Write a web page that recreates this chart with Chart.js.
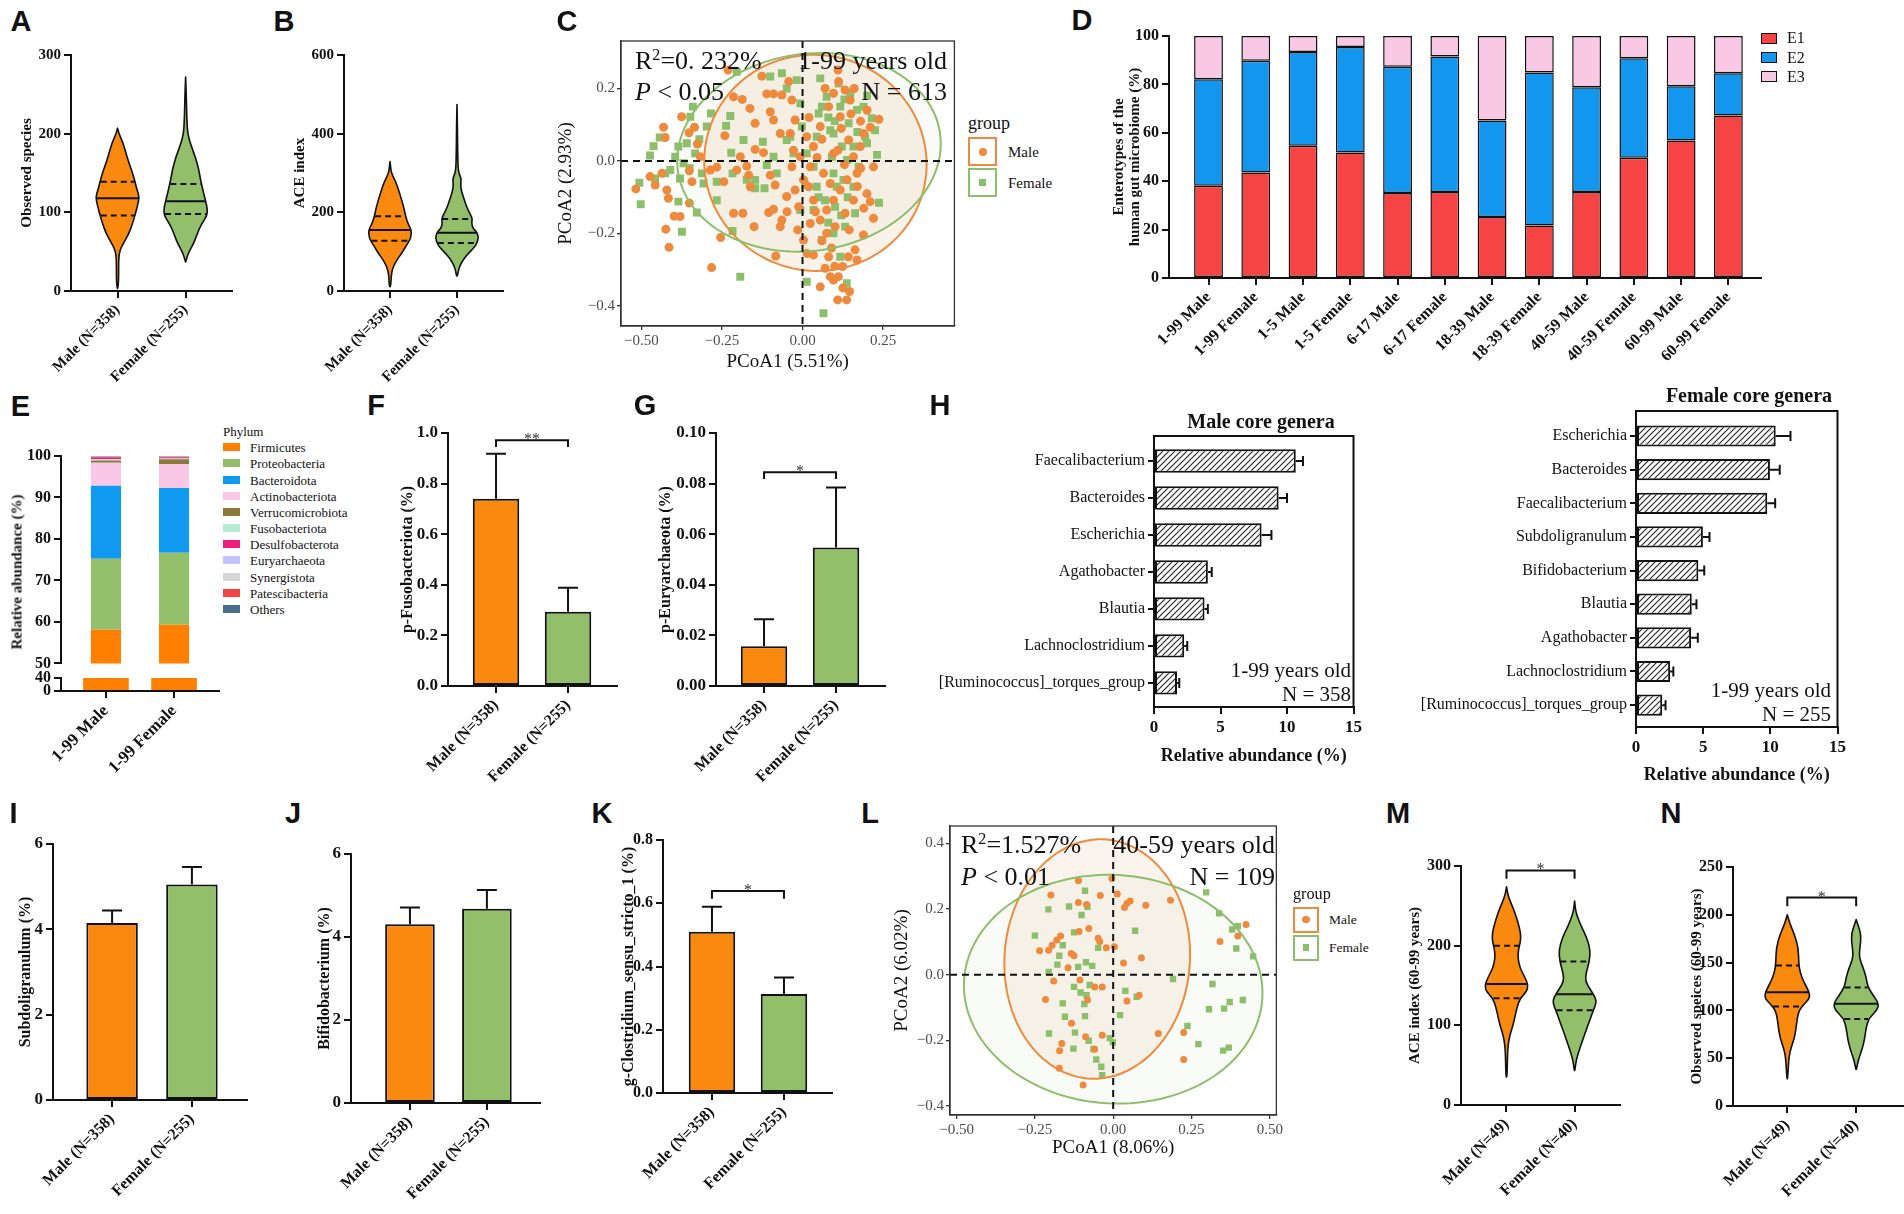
<!DOCTYPE html>
<html>
<head>
<meta charset="utf-8">
<script src="https://cdn.jsdelivr.net/npm/chart.js@4.4.1/dist/chart.umd.min.js"></script>
<style>
  html, body { margin: 0; padding: 0; background: #fff; }
  #fig { position: relative; width: 1904px; height: 1214px; overflow: hidden; background: #fff;
         font-family: 'Liberation Serif', 'Times New Roman', serif; color: #111; }
  #fig canvas { position: absolute; }
  .t { position: absolute; white-space: nowrap; line-height: 1; }
  .letter { font-family: 'Liberation Sans', Arial, sans-serif; font-weight: bold; font-size: 29px; }
  .box { position: absolute; box-sizing: border-box; }
</style>
</head>
<body>
<div id="fig"></div>
<script>
// ---------- data ----------
const groups = ['Male (N=358)', 'Female (N=255)'];
const groups60 = ['Male (N=49)', 'Female (N=40)'];

// A / B: violins, profile = [value, relative half width], stats = [q1, median, q3]
const obsMaleProfile = [[207,0],[200,0.06],[188,0.26],[171,0.43],[160,0.56],[150,0.69],[139,0.8],[128,0.9],[120,1],[110,0.93],[99,0.83],[85,0.68],[73,0.52],[62,0.3],[54,0.14],[45,0.06],[30,0.05],[12,0.05],[0,0]];
const obsFemaleProfile = [[272,0],[250,0.03],[225,0.05],[205,0.08],[195,0.14],[185,0.25],[170,0.45],[155,0.6],[145,0.66],[136,0.73],[125,0.82],[114,0.92],[104,1],[96,0.98],[88,0.8],[80,0.64],[70,0.5],[60,0.36],[50,0.16],[42,0.05],[35,0]];
const obsStats = [[96, 118, 139], [98, 114, 136]];
const aceMaleProfile = [[329,0],[310,0.04],[299,0.07],[278,0.27],[248,0.45],[214,0.64],[189,0.73],[170,0.85],[155,1],[140,0.98],[130,0.93],[115,0.75],[96,0.55],[80,0.33],[62,0.15],[45,0.07],[30,0.05],[18,0.04],[9,0]];
const aceFemaleProfile = [[474,0],[420,0.02],[360,0.03],[310,0.05],[295,0.12],[285,0.2],[272,0.17],[255,0.2],[230,0.35],[210,0.48],[195,0.62],[183,0.72],[172,0.68],[160,0.74],[148,0.95],[135,1],[122,0.93],[110,0.8],[95,0.52],[80,0.3],[65,0.14],[50,0.06],[34,0]];
const aceStats = [[128, 155, 190], [122, 148, 183]];
const obsTicks = [0, 100, 200, 300];
const aceTicks = [0, 200, 400, 600];

// C: PCoA 1-99 years
const pcoaMale = [[-0.517,-0.077],[-0.431,0.093],[-0.426,0.065],[-0.473,-0.043],[-0.457,-0.066],[-0.436,-0.034],[-0.421,-0.080],[-0.416,-0.103],[-0.398,-0.152],[-0.380,-0.153],[-0.424,-0.188],[-0.414,-0.238],[-0.375,0.122],[-0.352,0.078],[-0.351,-0.027],[-0.343,-0.057],[-0.351,-0.116],[-0.335,0.093],[-0.326,0.047],[-0.282,-0.294],[-0.254,-0.211],[-0.266,-0.017],[-0.244,-0.057],[-0.241,0.070],[-0.231,0.251],[-0.214,0.177],[-0.187,0.170],[-0.163,0.145],[-0.214,-0.144],[-0.185,-0.144],[-0.150,-0.181],[-0.126,0.234],[-0.111,0.185],[-0.090,0.185],[-0.064,0.182],[-0.100,0.136],[-0.147,0.104],[-0.147,0.032],[-0.121,0.023],[-0.173,-0.014],[-0.167,-0.039],[-0.100,-0.039],[-0.085,-0.066],[-0.090,-0.133],[-0.105,-0.142],[-0.064,-0.163],[-0.048,-0.140],[-0.083,-0.262],[-0.069,-0.181],[-0.043,0.219],[-0.033,0.168],[-0.023,0.113],[-0.038,0.076],[-0.028,0.030],[-0.033,-0.016],[-0.023,-0.080],[-0.012,-0.126],[-0.015,-0.190],[0.003,-0.218],[0.014,-0.255],[0.034,-0.259],[0.055,-0.347],[0.070,-0.296],[0.081,-0.264],[0.086,-0.319],[0.096,-0.328],[0.111,-0.319],[0.124,-0.291],[0.142,-0.264],[0.169,-0.273],[0.146,-0.360],[0.137,-0.383],[0.109,-0.383],[0.163,-0.245],[0.189,-0.204],[0.220,-0.158],[0.210,-0.112],[0.200,-0.090],[0.220,-0.016],[0.237,0.115],[0.210,0.093],[0.189,0.076],[0.179,0.040],[0.158,0.012],[0.169,-0.034],[0.138,-0.052],[0.117,-0.080],[0.096,-0.108],[0.075,-0.135],[0.055,-0.163],[0.034,-0.108],[0.019,-0.071],[0.024,-0.016],[0.034,0.040],[0.055,0.095],[0.081,0.150],[0.096,0.187],[0.110,0.251],[0.112,0.219],[0.132,0.196],[0.148,0.168],[0.117,0.122],[0.143,0.058],[0.096,0.021],[0.065,-0.034],[0.086,-0.062],[0.158,-0.108],[0.132,-0.144],[0.101,-0.181],[0.075,-0.199],[0.013,0.067],[0.003,-0.052],[-0.007,0.012],[-0.162,-0.071],[-0.204,-0.025],[-0.286,-0.025],[-0.317,0.012],[-0.090,0.113],[-0.069,0.076],[-0.193,0.012],[0.024,-0.172],[-0.049,-0.098],[0.045,0.010],[0.060,0.060],[0.120,0.090],[0.150,0.130],[0.180,0.110],[0.200,0.140],[0.130,-0.010],[0.110,0.030],[0.170,-0.070],[0.190,-0.130],[0.145,-0.190],[0.090,-0.240],[0.060,-0.220],[0.040,-0.140],[0.020,0.120],[0.070,0.200],[0.160,0.200],[0.100,-0.290],[0.125,-0.350],[0.180,-0.020]];
const pcoaFemale = [[-0.502,-0.119],[-0.506,-0.060],[-0.473,0.015],[-0.462,0.041],[-0.443,0.065],[-0.457,-0.048],[-0.426,-0.034],[-0.410,-0.025],[-0.395,0.012],[-0.385,0.040],[-0.380,-0.048],[-0.385,-0.112],[-0.374,-0.195],[-0.369,-0.006],[-0.359,0.049],[-0.348,0.122],[-0.340,0.150],[-0.333,0.021],[-0.328,-0.142],[-0.312,-0.034],[-0.307,-0.062],[-0.297,0.095],[-0.284,0.131],[-0.266,-0.057],[-0.266,-0.108],[-0.237,0.097],[-0.224,0.124],[-0.221,0.023],[-0.217,-0.034],[-0.217,-0.193],[-0.204,0.246],[-0.193,-0.319],[-0.173,-0.052],[-0.147,-0.052],[-0.147,-0.075],[-0.123,0.053],[-0.118,-0.075],[-0.100,0.233],[-0.111,-0.011],[-0.080,-0.034],[-0.064,0.242],[-0.049,0.200],[-0.038,0.067],[-0.028,0.021],[-0.018,0.223],[-0.007,0.159],[-0.002,0.095],[0.008,-0.066],[0.013,-0.333],[0.034,-0.135],[0.044,-0.071],[0.050,0.131],[0.055,0.228],[0.060,-0.218],[0.065,-0.420],[0.075,0.177],[0.086,0.085],[0.091,0.012],[0.096,-0.034],[0.101,-0.126],[0.112,0.214],[0.117,0.150],[0.122,0.040],[0.127,-0.052],[0.132,-0.181],[0.137,-0.337],[0.143,0.104],[0.148,0.187],[0.158,0.040],[0.158,-0.071],[0.163,-0.144],[0.169,0.141],[0.174,-0.016],[0.189,0.150],[0.194,0.067],[0.200,0.049],[0.215,0.118],[0.225,0.085],[0.231,0.017],[0.237,-0.115],[0.117,-0.264],[0.096,-0.199],[0.044,0.067],[0.013,0.021],[0.034,-0.016],[0.070,-0.108],[0.096,0.076],[0.106,-0.071],[0.138,0.003],[-0.049,0.058],[-0.090,0.012],[-0.183,0.058],[-0.007,-0.135],[0.080,0.120],[0.130,0.170],[0.060,0.150],[0.100,0.110],[0.140,-0.100],[0.120,-0.150],[0.080,-0.170],[0.050,-0.100],[0.170,0.080],[0.200,0.180],[-0.350,-0.020],[-0.320,0.060]];
// confidence ellipses: centre, semi axes, rotation (deg)
const ellipseMaleC = {cx: 0.040, cy: -0.005, rx: 0.345, ry: 0.298, angle: -3};
const ellipseFemaleC = {cx: 0.020, cy: 0.024, rx: 0.410, ry: 0.272, angle: 6};
const pcoaTicksX = [-0.5, -0.25, 0, 0.25];
const pcoaTicksY = [-0.4, -0.2, 0, 0.2];

// D: enterotypes (%)
const dCats = ['1-99 Male','1-99 Female','1-5 Male','1-5 Female','6-17 Male','6-17 Female','18-39 Male','18-39 Female','40-59 Male','40-59 Female','60-99 Male','60-99 Female'];
const dE1 = [38.1, 43.6, 54.6, 51.9, 35.1, 35.5, 25.2, 21.7, 35.5, 49.7, 56.8, 67.1];
const dE2 = [44.0, 46.2, 38.8, 43.6, 52.2, 56.0, 39.9, 63.2, 43.3, 41.1, 22.4, 17.5];
const dE3 = [17.9, 10.2, 6.6, 4.5, 12.7, 8.5, 34.9, 15.1, 21.2, 9.2, 20.8, 15.4];
const pctTicks = [0, 20, 40, 60, 80, 100];

// E: phylum composition (%)
const eCats = ['1-99 Male', '1-99 Female'];
const phyla = ['Firmicutes','Proteobacteria','Bacteroidota','Actinobacteriota','Verrucomicrobiota','Fusobacteriota','Desulfobacterota','Euryarchaeota','Synergistota','Patescibacteria','Others'];
const phylaMale = [58.1, 17.1, 17.6, 5.6, 0.5, 0.4, 0.4, 0.05, 0.05, 0.05, 0.15];
const phylaFemale = [59.3, 17.4, 15.6, 5.8, 1.1, 0.2, 0.3, 0.05, 0.05, 0.05, 0.15];
const eTicksUpper = [50, 60, 70, 80, 90, 100];
const eTicksLower = [0, 40];

// F / G / I / J / K: mean and upper error (mean + SEM)
const fusoMean = [0.74, 0.293],   fusoUpper = [0.918, 0.388];
const euryMean = [0.0157, 0.0547], euryUpper = [0.0264, 0.0785];
const subdoMean = [4.15, 5.05],   subdoUpper = [4.44, 5.46];
const bifidoMean = [4.31, 4.68],  bifidoUpper = [4.71, 5.13];
const clostMean = [0.51, 0.313],  clostUpper = [0.589, 0.365];
const fusoTicks = [0, 0.2, 0.4, 0.6, 0.8, 1.0];
const euryTicks = [0, 0.02, 0.04, 0.06, 0.08, 0.10];
const sixTicks = [0, 2, 4, 6];
const clostTicks = [0, 0.2, 0.4, 0.6, 0.8];

// H: core genera
const maleGenera = ['Faecalibacterium','Bacteroides','Escherichia','Agathobacter','Blautia','Lachnoclostridium','[Ruminococcus]_torques_group'];
const maleGeneraMean = [10.66, 9.37, 8.09, 4.05, 3.80, 2.27, 1.73];
const maleGeneraUpper = [11.2, 10.0, 8.83, 4.34, 4.05, 2.50, 1.90];
const femaleGenera = ['Escherichia','Bacteroides','Faecalibacterium','Subdoligranulum','Bifidobacterium','Blautia','Agathobacter','Lachnoclostridium','[Ruminococcus]_torques_group'];
const femaleGeneraMean = [10.4, 9.97, 9.77, 4.98, 4.64, 4.15, 4.10, 2.54, 1.95];
const femaleGeneraUpper = [11.5, 10.7, 10.36, 5.47, 5.08, 4.50, 4.60, 2.78, 2.20];
const genusTicks = [0, 5, 10, 15];

// L: PCoA 40-59 years
const pcoa4059Male = [[-0.111,0.286],[-0.004,0.293],[-0.199,0.243],[-0.111,0.220],[-0.085,0.214],[-0.041,0.241],[0.013,0.246],[0.036,0.205],[0.044,0.217],[0.054,0.225],[0.104,0.212],[0.183,0.227],[-0.109,0.132],[-0.078,0.141],[-0.168,0.118],[-0.180,0.106],[-0.195,0.090],[-0.206,0.075],[-0.235,0.073],[-0.048,0.111],[-0.043,0.101],[-0.022,0.082],[0.004,0.085],[-0.134,0.065],[-0.125,0.058],[-0.144,0.021],[0.033,0.036],[0.090,0.052],[-0.190,-0.019],[-0.106,-0.016],[-0.059,-0.037],[-0.035,-0.037],[-0.216,-0.075],[-0.082,-0.077],[0.044,-0.080],[0.083,-0.062],[-0.133,-0.148],[-0.164,-0.209],[-0.171,-0.231],[-0.172,-0.285],[-0.088,-0.189],[-0.059,-0.227],[-0.035,-0.184],[-0.096,-0.336],[0.144,-0.179],[0.225,-0.176],[0.225,-0.258],[0.341,0.101],[0.398,0.118],[0.424,0.153]];
const pcoa4059Female = [[-0.207,0.199],[-0.141,0.208],[-0.090,0.256],[-0.082,0.207],[-0.101,0.182],[-0.250,0.119],[-0.125,0.129],[-0.161,0.090],[-0.172,0.058],[-0.178,0.031],[-0.206,0.009],[-0.112,0.024],[-0.087,0.038],[-0.067,0.027],[-0.048,0.082],[-0.125,-0.037],[-0.104,-0.054],[-0.085,-0.062],[-0.075,-0.031],[-0.161,-0.087],[-0.092,-0.089],[-0.154,-0.128],[-0.090,-0.126],[-0.205,-0.179],[-0.122,-0.176],[-0.127,-0.225],[-0.078,-0.201],[-0.063,-0.226],[-0.054,-0.258],[-0.038,-0.280],[-0.035,-0.306],[-0.011,-0.193],[-0.001,-0.206],[0.039,-0.049],[0.022,-0.123],[0.075,-0.067],[0.070,0.134],[0.191,-0.013],[0.237,-0.156],[0.272,-0.211],[0.297,0.251],[0.317,-0.028],[0.338,0.187],[0.306,-0.105],[0.354,-0.103],[0.372,-0.083],[0.414,-0.077],[0.380,0.138],[0.398,0.148],[0.393,0.080],[0.447,0.056],[0.351,-0.231],[0.369,-0.222]];
const ellipseMaleL = {cx: -0.051, cy: 0.048, rx: 0.296, ry: 0.365, angle: -5};
const ellipseFemaleL = {cx: 0.000, cy: -0.044, rx: 0.477, ry: 0.348, angle: -3};
const pcoa4059TicksX = [-0.5, -0.25, 0, 0.25, 0.5];
const pcoa4059TicksY = [-0.4, -0.2, 0, 0.2, 0.4];

// M / N: 60-99 years violins
const ace60MaleProfile = [[274,0],[265,0.05],[255,0.18],[245,0.34],[230,0.52],[215,0.66],[205,0.64],[195,0.55],[185,0.52],[172,0.62],[160,0.85],[150,1],[142,0.92],[134,0.62],[122,0.48],[110,0.38],[100,0.3],[90,0.18],[80,0.1],[70,0.06],[55,0.04],[40,0.03],[33,0]];
const ace60FemaleProfile = [[256,0],[248,0.03],[240,0.08],[225,0.29],[210,0.56],[195,0.72],[180,0.68],[165,0.52],[155,0.5],[145,0.72],[135,0.95],[128,1],[119,0.86],[105,0.68],[90,0.48],[75,0.29],[62,0.13],[52,0.05],[40,0]];
const ace60Stats = [[134, 152, 200], [119, 139, 180]];
const obs60MaleProfile = [[200,0],[190,0.12],[180,0.31],[165,0.49],[150,0.5],[140,0.56],[130,0.72],[120,0.95],[113,1],[106,0.72],[100,0.52],[92,0.44],[80,0.38],[70,0.3],[60,0.15],[50,0.07],[38,0.04],[25,0]];
const obs60FemaleProfile = [[195,0],[188,0.1],[180,0.2],[172,0.2],[163,0.15],[155,0.14],[145,0.3],[135,0.44],[125,0.5],[116,0.74],[107,1],[100,0.92],[92,0.56],[82,0.44],[70,0.37],[60,0.27],[50,0.12],[42,0.04],[37,0]];
const obs60Stats = [[104, 119, 147], [91, 107, 124]];
const ace60Ticks = [0, 100, 200, 300];
const obs60Ticks = [0, 50, 100, 150, 200, 250];

// ---------- styles ----------
const INK = '#111';
const ORANGE = '#F98A0F';
const GREEN = '#93BF6B';
const PT_ORANGE = '#EE8A3D';
const PT_GREEN = '#8DBE6B';
const phylaColors = ['#FF8000','#93BF6B','#109AF0','#F8C8E6','#8C7A3A','#B6EBD3','#EE1E80','#C3C3FA','#D6D6D6','#F24444','#4C6E8E'];

Chart.defaults.font.family = "'Liberation Serif', 'Times New Roman', serif";
Chart.defaults.color = INK;

const fig = document.getElementById('fig');
const toXY = arr => arr.map((v, i) => ({x: i, y: v}));
const toYX = arr => arr.map((v, i) => ({x: v, y: i}));
const toPts = arr => arr.map(([x, y]) => ({x, y}));
const idx = arr => arr.map((_, i) => i);

// place a chart so its chart area lands on [l, t, r, b]; m = [left, top, right, bottom] margins
function place(area, m, config) {
  const [L, T, R, B] = area.map(Math.round);
  const [ml, mt, mr, mb] = m.map(Math.round);
  const cv = document.createElement('canvas');
  const W = R - L + ml + mr, H = B - T + mt + mb;
  cv.width = W; cv.height = H;
  Object.assign(cv.style, {left: (L - ml) + 'px', top: (T - mt) + 'px', width: W + 'px', height: H + 'px'});
  fig.appendChild(cv);
  const o = config.options;
  const sx = o.scales.x, sy = o.scales.y;
  const xShown = sx.display !== false, yShown = sy.display !== false;
  if (xShown) sx.afterFit = s => { s.height = mb; };
  if (yShown) sy.afterFit = s => { s.width = ml; };
  o.responsive = false;
  o.animation = false;
  o.layout = {padding: {left: yShown ? 0 : ml, top: mt, right: mr, bottom: xShown ? 0 : mb}};
  o.plugins = Object.assign({legend: {display: false}, tooltip: {enabled: false}}, o.plugins || {});
  return new Chart(cv, config);
}

// GraphPad-like axis: heavy line, outside ticks, bold serif labels
function gpAxis(o) {
  const ax = {
    type: 'linear', min: o.min, max: o.max, reverse: !!o.reverse, offset: false,
    afterBuildTicks: s => { s.ticks = o.ticks.map(v => ({value: v})); },
    ticks: {autoSkip: false, padding: o.pad ?? 3, color: o.color || INK,
      font: {size: o.size, weight: o.weight || 'bold'}, callback: o.fmt || (v => v)},
    grid: {display: true, offset: false, drawOnChartArea: false, drawTicks: true, tickLength: o.tickLength || 7,
      tickWidth: o.lw || 2, lineWidth: o.lw || 2, tickColor: o.lineColor || INK},
    border: {display: true, color: o.lineColor || INK, width: o.lw || 2},
  };
  if (o.rotate) { ax.ticks.minRotation = o.rotate; ax.ticks.maxRotation = o.rotate; }
  if (o.title) {
    ax.title = {display: true, text: o.title, padding: 0, color: INK,
      font: {size: o.titleSize, weight: o.titleWeight || 'bold', lineHeight: o.titleLH || 1.2}};
  }
  if (o.stacked) ax.stacked = true;
  return ax;
}
function groupAxis(labels, min, max, size) {
  return gpAxis({min, max, ticks: idx(labels), fmt: v => labels[v], size, rotate: 45});
}
function ggAxis(o) {
  return gpAxis(Object.assign({size: 15, weight: 'normal', color: '#4D4D4D', lineColor: '#333', lw: 1.3,
    tickLength: 4, pad: 2, titleSize: 19, titleWeight: 'normal'}, o));
}
const fmt2 = v => (v < 0 ? '\u2212' : '') + Math.abs(v).toFixed(2);
const fmt1 = v => (v < 0 ? '\u2212' : '') + Math.abs(v).toFixed(1);

// ---------- plugins ----------
function widthAt(profile, val) {
  for (let i = 0; i < profile.length - 1; i++) {
    const [v0, w0] = profile[i], [v1, w1] = profile[i + 1];
    if (val <= v0 && val >= v1) return w0 + (w1 - w0) * (v0 - val) / (v0 - v1);
  }
  return 0;
}
function violins(items, halfWidth) {
  return {
    id: 'violins',
    afterDatasetsDraw(chart) {
      const {ctx} = chart, xs = chart.scales.x, ys = chart.scales.y;
      const hw = (xs.getPixelForValue(1) - xs.getPixelForValue(0)) * halfWidth;
      items.forEach(v => {
        const cx = xs.getPixelForValue(v.x);
        const right = v.profile.map(([val, w]) => ({x: cx + w * hw, y: ys.getPixelForValue(val)}));
        const left = right.slice(1, -1).reverse().map(p => ({x: 2 * cx - p.x, y: p.y}));
        const pts = right.concat(left);
        ctx.save();
        ctx.beginPath();
        ctx.moveTo(pts[0].x, pts[0].y);
        for (let i = 1; i < pts.length; i++) {
          const p = pts[i], q = pts[(i + 1) % pts.length];
          ctx.quadraticCurveTo(p.x, p.y, (p.x + q.x) / 2, (p.y + q.y) / 2);
        }
        ctx.closePath();
        ctx.fillStyle = v.color;
        ctx.fill();
        ctx.lineWidth = 1.6; ctx.lineJoin = 'round'; ctx.strokeStyle = INK;
        ctx.stroke();
        v.stats.forEach((val, k) => {
          const w = widthAt(v.profile, val) * hw * 0.96;
          const py = ys.getPixelForValue(val);
          ctx.setLineDash(k === 1 ? [] : [6, 4]);
          ctx.lineWidth = 2;
          ctx.beginPath(); ctx.moveTo(cx - w, py); ctx.lineTo(cx + w, py); ctx.stroke();
        });
        ctx.restore();
      });
    },
  };
}
function errorBars(means, upper, cap, horizontal) {
  return {
    id: 'errorBars',
    afterDatasetsDraw(chart) {
      const {ctx} = chart, xs = chart.scales.x, ys = chart.scales.y;
      ctx.save(); ctx.strokeStyle = INK; ctx.lineWidth = 2;
      means.forEach((m, i) => {
        ctx.beginPath();
        if (horizontal) {
          const py = ys.getPixelForValue(i), x0 = xs.getPixelForValue(m), x1 = xs.getPixelForValue(upper[i]);
          ctx.moveTo(x0, py); ctx.lineTo(x1, py); ctx.moveTo(x1, py - cap); ctx.lineTo(x1, py + cap);
        } else {
          const px = xs.getPixelForValue(i), y0 = ys.getPixelForValue(m), y1 = ys.getPixelForValue(upper[i]);
          ctx.moveTo(px, y0); ctx.lineTo(px, y1); ctx.moveTo(px - cap, y1); ctx.lineTo(px + cap, y1);
        }
        ctx.stroke();
      });
      ctx.restore();
    },
  };
}
function bracket(b) {
  return {
    id: 'bracket',
    afterDatasetsDraw(chart) {
      const {ctx} = chart, xs = chart.scales.x, ys = chart.scales.y;
      const x0 = xs.getPixelForValue(0), x1 = xs.getPixelForValue(1);
      const y0 = ys.getPixelForValue(b.y), yl = ys.getPixelForValue(b.leg);
      ctx.save();
      ctx.strokeStyle = INK; ctx.lineWidth = 2;
      ctx.beginPath(); ctx.moveTo(x0, yl); ctx.lineTo(x0, y0); ctx.lineTo(x1, y0); ctx.lineTo(x1, yl); ctx.stroke();
      ctx.fillStyle = '#333'; ctx.font = "16px 'Liberation Serif'";
      ctx.textAlign = 'center'; ctx.textBaseline = 'alphabetic';
      ctx.fillText(b.label, (x0 + x1) / 2, y0 + 4);
      ctx.restore();
    },
  };
}
function ellipsePath(ctx, xs, ys, e) {
  const a = e.angle * Math.PI / 180;
  ctx.beginPath();
  for (let k = 0; k <= 120; k++) {
    const t = k / 120 * 2 * Math.PI;
    const dx = e.rx * Math.cos(t), dy = e.ry * Math.sin(t);
    const px = xs.getPixelForValue(e.cx + dx * Math.cos(a) - dy * Math.sin(a));
    const py = ys.getPixelForValue(e.cy + dx * Math.sin(a) + dy * Math.cos(a));
    if (k) ctx.lineTo(px, py); else ctx.moveTo(px, py);
  }
  ctx.closePath();
}
function pcoaDecor(ellipses) {
  return {
    id: 'pcoa',
    beforeDatasetsDraw(chart) {
      const {ctx} = chart, xs = chart.scales.x, ys = chart.scales.y;
      ctx.save();
      ellipses.forEach(e => { ellipsePath(ctx, xs, ys, e); ctx.fillStyle = e.fill; ctx.fill(); });
      ctx.restore();
    },
    afterDatasetsDraw(chart) {
      const {ctx, chartArea: a} = chart, xs = chart.scales.x, ys = chart.scales.y;
      ctx.save();
      ellipses.forEach(e => { ellipsePath(ctx, xs, ys, e); ctx.strokeStyle = e.stroke; ctx.lineWidth = 2; ctx.stroke(); });
      ctx.strokeStyle = INK; ctx.lineWidth = 2; ctx.setLineDash([7, 5]);
      const x0 = xs.getPixelForValue(0), y0 = ys.getPixelForValue(0);
      ctx.beginPath(); ctx.moveTo(x0, a.top); ctx.lineTo(x0, a.bottom); ctx.moveTo(a.left, y0); ctx.lineTo(a.right, y0); ctx.stroke();
      ctx.setLineDash([]); ctx.strokeStyle = '#333'; ctx.lineWidth = 1.3;
      ctx.strokeRect(a.left, a.top, a.right - a.left, a.bottom - a.top);
      ctx.restore();
    },
  };
}
const frame = {
  id: 'frame',
  afterDraw(chart) {
    const {ctx, chartArea: a} = chart;
    ctx.save(); ctx.strokeStyle = INK; ctx.lineWidth = 2;
    ctx.strokeRect(a.left, a.top, a.right - a.left, a.bottom - a.top);
    ctx.restore();
  },
};
function hatch() {
  const c = document.createElement('canvas');
  c.width = c.height = 6;
  const g = c.getContext('2d');
  g.fillStyle = '#fff'; g.fillRect(0, 0, 6, 6);
  g.strokeStyle = '#222'; g.lineWidth = 1.1;
  g.beginPath();
  g.moveTo(0, 6); g.lineTo(6, 0);
  g.moveTo(-1, 1); g.lineTo(1, -1);
  g.moveTo(5, 7); g.lineTo(7, 5);
  g.stroke();
  return g.createPattern(c, 'repeat');
}

// ---------- HTML text ----------
function text(html, x, y, o = {}) {
  const d = document.createElement('div');
  d.className = 't ' + (o.cls || '');
  d.innerHTML = html;
  const a = o.anchor || 'lm';
  const tx = a[0] === 'l' ? '0' : a[0] === 'r' ? '-100%' : '-50%';
  const ty = a[1] === 't' ? '0' : a[1] === 'b' ? '-100%' : '-50%';
  d.style.left = x + 'px'; d.style.top = y + 'px';
  d.style.transform = `translate(${tx},${ty})` + (o.rot ? ` rotate(${o.rot}deg)` : '');
  if (o.size) d.style.fontSize = o.size + 'px';
  if (o.bold) d.style.fontWeight = 'bold';
  if (o.italic) d.style.fontStyle = 'italic';
  fig.appendChild(d);
  return d;
}
function swatch(x, y, w, h, css) {
  const d = document.createElement('div');
  d.className = 'box';
  Object.assign(d.style, {left: x + 'px', top: y + 'px', width: w + 'px', height: h + 'px'}, css);
  fig.appendChild(d);
  return d;
}

// ---------- A: observed species ----------
place([71, 55, 232, 291], [52.5, 14, 4, 95], {
  type: 'scatter', data: {datasets: []},
  options: {scales: {
    x: groupAxis(groups, -0.683, 1.681, 15),
    y: gpAxis({min: 0, max: 300, ticks: obsTicks, size: 15, title: 'Observed species', titleSize: 15}),
  }},
  plugins: [violins([
    {x: 0, profile: obsMaleProfile, stats: obsStats[0], color: ORANGE},
    {x: 1, profile: obsFemaleProfile, stats: obsStats[1], color: GREEN}], 0.32)],
});

// ---------- B: ACE index ----------
place([344, 55, 503, 291], [53, 14, 4, 95], {
  type: 'scatter', data: {datasets: []},
  options: {scales: {
    x: groupAxis(groups, -0.687, 1.687, 15),
    y: gpAxis({min: 0, max: 600, ticks: aceTicks, size: 15, title: 'ACE index', titleSize: 15}),
  }},
  plugins: [violins([
    {x: 0, profile: aceMaleProfile, stats: aceStats[0], color: ORANGE},
    {x: 1, profile: aceFemaleProfile, stats: aceStats[1], color: GREEN}], 0.32)],
});

// ---------- C: PCoA 1-99 ----------
place([621, 41, 956, 326], [66, 14, 4, 47], {
  type: 'scatter',
  data: {datasets: [
    {data: toPts(pcoaMale), backgroundColor: PT_ORANGE, borderWidth: 0, pointRadius: 4.5, pointStyle: 'circle'},
    {data: toPts(pcoaFemale), backgroundColor: PT_GREEN, borderWidth: 0, pointRadius: 5.6, pointStyle: 'rect'},
  ]},
  options: {scales: {
    x: ggAxis({min: -0.563, max: 0.471, ticks: pcoaTicksX, fmt: fmt2, title: 'PCoA1 (5.51%)'}),
    y: ggAxis({min: -0.455, max: 0.331, ticks: pcoaTicksY, fmt: fmt1, title: 'PCoA2 (2.93%)'}),
  }},
  plugins: [pcoaDecor([
    Object.assign({stroke: PT_ORANGE, fill: 'rgba(226,172,112,0.15)'}, ellipseMaleC),
    Object.assign({stroke: PT_GREEN, fill: 'rgba(165,200,135,0.08)'}, ellipseFemaleC)])],
});

// ---------- D: enterotypes ----------
const barBase = {borderColor: INK, borderWidth: 1.5, borderSkipped: false, barPercentage: 0.61, categoryPercentage: 1, clip: false};
place([1169, 36, 1761, 278], [58, 14, 4, 100], {
  type: 'bar',
  data: {datasets: [
    Object.assign({data: toXY(dE1), backgroundColor: '#F64343'}, barBase),
    Object.assign({data: toXY(dE2), backgroundColor: '#1296EE'}, barBase),
    Object.assign({data: toXY(dE3), backgroundColor: '#F8C8E4'}, barBase),
  ]},
  options: {scales: {
    x: Object.assign(groupAxis(dCats, -0.836, 11.69, 16), {stacked: true}),
    y: gpAxis({min: 0, max: 100, ticks: pctTicks, size: 16, stacked: true,
      title: ['Enterotypes of the', 'human gut microbiome (%)'], titleSize: 15, titleLH: 1.07}),
  }},
});

// ---------- E: phylum composition (broken axis) ----------
function phylaSets() {
  return phyla.map((p, i) => ({
    label: p, data: [{x: 0, y: phylaMale[i]}, {x: 1, y: phylaFemale[i]}],
    backgroundColor: phylaColors[i], borderWidth: 0, barPercentage: 0.67, categoryPercentage: 1, clip: 0,
  }));
}
place([61, 456, 219, 664], [53, 14, 4, 12], {
  type: 'bar', data: {datasets: phylaSets()},
  options: {scales: {
    x: {type: 'linear', display: false, offset: false, min: -0.66, max: 1.66, stacked: true},
    y: gpAxis({min: 50, max: 100, ticks: eTicksUpper, size: 16, stacked: true}),
  }},
});
place([61, 678, 219, 691], [53, 14, 4, 95], {
  type: 'bar', data: {datasets: phylaSets()},
  options: {scales: {
    x: Object.assign(groupAxis(eCats, -0.66, 1.66, 17), {stacked: true}),
    y: gpAxis({min: 0, max: 40, ticks: eTicksLower, size: 16, stacked: true}),
  }},
});

// ---------- simple two-bar panels ----------
function twoBars(area, ml, range, mean, upper, yo, br) {
  const plugins = [errorBars(mean, upper, 10, false)];
  if (br) plugins.push(bracket(br));
  return place(area, [ml, 14, 4, 105], {
    type: 'bar',
    data: {datasets: [{data: toXY(mean), backgroundColor: [ORANGE, GREEN], borderColor: INK, borderWidth: 2,
      borderSkipped: false, barPercentage: 0.645, categoryPercentage: 1}]},
    options: {scales: {x: groupAxis(groups, range[0], range[1], 16), y: gpAxis(yo)}},
    plugins,
  });
}
twoBars([448, 433, 617, 686], 50, [-0.667, 1.68], fusoMean, fusoUpper,
  {min: 0, max: 1, ticks: fusoTicks, size: 17, fmt: v => v.toFixed(1), title: 'p-Fusobacteriota (%)', titleSize: 16},
  {y: 0.971, leg: 0.945, label: '**'});
twoBars([716, 433, 885, 686], 59.6, [-0.667, 1.68], euryMean, euryUpper,
  {min: 0, max: 0.1, ticks: euryTicks, size: 17, fmt: v => v.toFixed(2), title: 'p-Euryarchaeota (%)', titleSize: 16},
  {y: 0.0845, leg: 0.0818, label: '*'});
twoBars([53, 844, 247, 1100], 37, [-0.74, 1.69], subdoMean, subdoUpper,
  {min: 0, max: 6, ticks: sixTicks, size: 17, title: 'Subdoligranulum (%)', titleSize: 16});
twoBars([351, 854, 540, 1103], 36.3, [-0.766, 1.69], bifidoMean, bifidoUpper,
  {min: 0, max: 6, ticks: sixTicks, size: 17, title: 'Bifidobacterium (%)', titleSize: 16});
twoBars([663, 840, 832, 1093], 44, [-0.68, 1.667], clostMean, clostUpper,
  {min: 0, max: 0.8, ticks: clostTicks, size: 16, fmt: v => v.toFixed(1), title: 'g-Clostridium_sensu_stricto_1 (%)', titleSize: 16},
  {y: 0.639, leg: 0.614, label: '*'});

// ---------- H: core genera ----------
function genera(area, ml, mb, names, mean, upper, yRange) {
  return place(area, [ml, 14, 6, mb], {
    type: 'bar',
    data: {datasets: [{data: toYX(mean), backgroundColor: hatch(), borderColor: INK, borderWidth: 2,
      borderSkipped: false, barPercentage: 0.63, categoryPercentage: 1}]},
    options: {indexAxis: 'y', scales: {
      x: gpAxis({min: 0, max: 15, ticks: genusTicks, size: 17, title: 'Relative abundance (%)', titleSize: 18}),
      y: gpAxis({min: yRange[0], max: yRange[1], reverse: true, ticks: idx(names), fmt: v => names[v],
        size: 16, weight: 'normal', tickLength: 6}),
    }},
    plugins: [errorBars(mean, upper, 5, true), frame],
  });
}
genera([1154, 436, 1359, 707], 232, 60, maleGenera, maleGeneraMean, maleGeneraUpper, [-0.676, 6.65]);
genera([1636, 411, 1843, 727], 242, 59, femaleGenera, femaleGeneraMean, femaleGeneraUpper, [-0.744, 8.65]);

// ---------- L: PCoA 40-59 ----------
place([950, 826, 1281, 1115], [59.4, 14, 4, 44.4], {
  type: 'scatter',
  data: {datasets: [
    {data: toPts(pcoa4059Male), backgroundColor: PT_ORANGE, borderWidth: 0, pointRadius: 3.5, pointStyle: 'circle'},
    {data: toPts(pcoa4059Female), backgroundColor: PT_GREEN, borderWidth: 0, pointRadius: 4.5, pointStyle: 'rect'},
  ]},
  options: {scales: {
    x: ggAxis({min: -0.521, max: 0.521, ticks: pcoa4059TicksX, fmt: fmt2, title: 'PCoA1 (8.06%)'}),
    y: ggAxis({min: -0.427, max: 0.453, ticks: pcoa4059TicksY, fmt: fmt1, title: 'PCoA2 (6.02%)'}),
  }},
  plugins: [pcoaDecor([
    Object.assign({stroke: PT_ORANGE, fill: 'rgba(226,172,112,0.13)'}, ellipseMaleL),
    Object.assign({stroke: PT_GREEN, fill: 'rgba(165,200,135,0.07)'}, ellipseFemaleL)])],
});

// ---------- M / N: 60-99 years violins ----------
place([1461, 866, 1620, 1105], [54.5, 14, 4, 105], {
  type: 'scatter', data: {datasets: []},
  options: {scales: {
    x: groupAxis(groups60, -0.668, 1.667, 16),
    y: gpAxis({min: 0, max: 300, ticks: ace60Ticks, size: 16, title: 'ACE index (60-99 years)', titleSize: 15}),
  }},
  plugins: [violins([
    {x: 0, profile: ace60MaleProfile, stats: ace60Stats[0], color: ORANGE},
    {x: 1, profile: ace60FemaleProfile, stats: ace60Stats[1], color: GREEN}], 0.32),
    bracket({y: 294.5, leg: 284, label: '*'})],
});
place([1733, 867, 1903, 1106], [45, 14, 1, 105], {
  type: 'scatter', data: {datasets: []},
  options: {scales: {
    x: groupAxis(groups60, -0.788, 1.68, 16),
    y: gpAxis({min: 0, max: 250, ticks: obs60Ticks, size: 16, title: 'Observed speices (60-99 years)', titleSize: 15}),
  }},
  plugins: [violins([
    {x: 0, profile: obs60MaleProfile, stats: obs60Stats[0], color: ORANGE},
    {x: 1, profile: obs60FemaleProfile, stats: obs60Stats[1], color: GREEN}], 0.33),
    bracket({y: 218, leg: 209, label: '*'})],
});

// ---------- text overlays ----------
[['A', 21, 21], ['B', 284, 21], ['C', 567, 21], ['D', 1082, 20], ['E', 20.5, 406], ['F', 376, 405],
 ['G', 645, 405], ['H', 940, 405], ['I', 13.5, 813], ['J', 293, 813], ['K', 602, 813], ['L', 870, 813],
 ['M', 1398, 813], ['N', 1671, 813]].forEach(([s, x, y]) => text(s, x, y, {cls: 'letter', anchor: 'cm'}));

const sup = '<span style="font-size:0.62em;position:relative;top:-0.55em">2</span>';
text('R' + sup + '=0. 232%', 635, 61, {size: 26});
text('1-99 years old', 947, 61, {size: 26, anchor: 'rm'});
text('<i>P</i> &lt; 0.05', 635, 92, {size: 26});
text('N = 613', 947, 92, {size: 26, anchor: 'rm'});
text('R' + sup + '=1.527%', 961, 845, {size: 26});
text('40-59 years old', 1275, 845, {size: 26, anchor: 'rm'});
text('<i>P</i> &lt; 0.01', 961, 877, {size: 26});
text('N = 109', 1275, 877, {size: 26, anchor: 'rm'});

// ggplot legends
function groupLegend(x, y, s) {
  text('group', x, y, {size: 18 * s});
  const bw = 29 * s, bh = 29 * s, top1 = y + 14 * s, top2 = top1 + bh + 2 * s;
  swatch(x, top1, bw, bh, {border: `2px solid ${PT_ORANGE}`});
  swatch(x, top2, bw, bh, {border: `2px solid ${PT_GREEN}`});
  const d = 8 * s, q = 7 * s;
  swatch(x + (bw - d) / 2, top1 + (bh - d) / 2, d, d, {background: PT_ORANGE, borderRadius: '50%'});
  swatch(x + (bw - q) / 2, top2 + (bh - q) / 2, q, q, {background: PT_GREEN});
  text('Male', x + bw + 11 * s, top1 + bh / 2, {size: 15 * s});
  text('Female', x + bw + 11 * s, top2 + bh / 2, {size: 15 * s});
}
groupLegend(968, 123, 1);
groupLegend(1293, 894, 0.9);

// D legend
[['E1', '#F64343', 38], ['E2', '#1296EE', 57.5], ['E3', '#F8C8E4', 76.5]].forEach(([s, c, y]) => {
  swatch(1761, y - 5.5, 16, 11, {background: c, border: '1.5px solid #111'});
  text(s, 1787, y, {size: 16});
});

// E legend + title
text('Phylum', 223, 431, {size: 13});
phyla.forEach((p, i) => {
  const y = 447.3 + 16.15 * i;
  swatch(223, y - 4, 17, 8, {background: phylaColors[i]});
  text(p, 250, y, {size: 13});
});
text('Relative abundance (%)', 17, 572, {size: 15, bold: true, anchor: 'cm', rot: -90});

// H titles and notes
text('Male core genera', 1261, 421, {size: 20, bold: true, anchor: 'cm'});
text('Female core genera', 1749, 395, {size: 20, bold: true, anchor: 'cm'});
text('1-99 years old', 1351, 670, {size: 21, anchor: 'rm'});
text('N = 358', 1351, 694, {size: 21, anchor: 'rm'});
text('1-99 years old', 1831, 690, {size: 21, anchor: 'rm'});
text('N = 255', 1831, 714, {size: 21, anchor: 'rm'});
</script>
</body>
</html>
